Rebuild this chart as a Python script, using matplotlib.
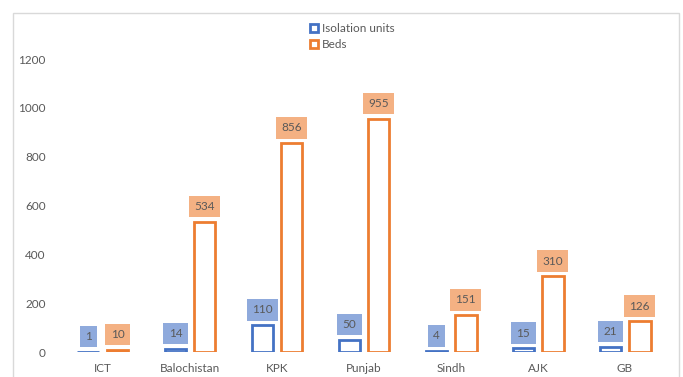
import numpy as np
import matplotlib
matplotlib.use('Agg')
import matplotlib.pyplot as plt
from matplotlib.patches import Patch, Rectangle

# Data
regions = ['ICT', 'Balochistan', 'KPK', 'Punjab', 'Sindh', 'AJK', 'GB']
isolation_units = [1, 14, 110, 50, 4, 15, 21]
beds = [10, 534, 856, 955, 151, 310, 126]

blue = '#4472C4'
orange = '#ED7D31'
blue_lbl = '#8FAADC'
orange_lbl = '#F4B183'
txt = '#595959'

plt.rcParams['font.family'] = ['Lato', 'DejaVu Sans']

fig = plt.figure(figsize=(6.83, 3.77), dpi=100)
ax = fig.add_axes([0.0871, 0.0663, 0.8917, 0.7772])

x = np.arange(len(regions))
w = 0.25
off = 0.168

b1 = ax.bar(x - off, isolation_units, w, facecolor='white', edgecolor=blue, linewidth=2)
b2 = ax.bar(x + off, beds, w, facecolor='white', edgecolor=orange, linewidth=2)

# value labels in coloured boxes
for bars, vals, col in [(b1, isolation_units, blue_lbl), (b2, beds, orange_lbl)]:
    for rect, v in zip(bars, vals):
        ax.annotate(str(v), (rect.get_x() + rect.get_width() / 2, v),
                    xytext=(0, 7), textcoords='offset points',
                    ha='center', va='bottom', fontsize=8.5, color=txt,
                    bbox=dict(boxstyle='square,pad=0.45', facecolor=col, edgecolor='none'),
                    annotation_clip=False)

ax.set_xlim(-0.5, len(regions) - 0.5)
ax.set_ylim(0, 1200)
ax.set_yticks(range(0, 1201, 200))
ax.set_xticks(x)
ax.set_xticklabels(regions)
ax.tick_params(axis='both', length=0, labelsize=8.5, labelcolor=txt)
ax.tick_params(axis='y', pad=10)
ax.tick_params(axis='x', pad=8)
for s in ax.spines.values():
    s.set_visible(False)

handles = [Patch(facecolor='white', edgecolor=blue, linewidth=2, label='Isolation units'),
           Patch(facecolor='white', edgecolor=orange, linewidth=2, label='Beds')]
fig.legend(handles=handles, loc='upper left', bbox_to_anchor=(0.445, 0.955),
           frameon=False, fontsize=8.5, labelcolor=txt, handlelength=0.7, handleheight=0.7,
           handletextpad=0.3, labelspacing=0.45, borderpad=0)

# outer chart frame
fig.add_artist(Rectangle((13 / 683, -0.1), 666 / 683, 1.1 - 13 / 377,
                         transform=fig.transFigure, fill=False,
                         edgecolor='#d9d9d9', linewidth=1))

fig.savefig('out.png', dpi=100)
